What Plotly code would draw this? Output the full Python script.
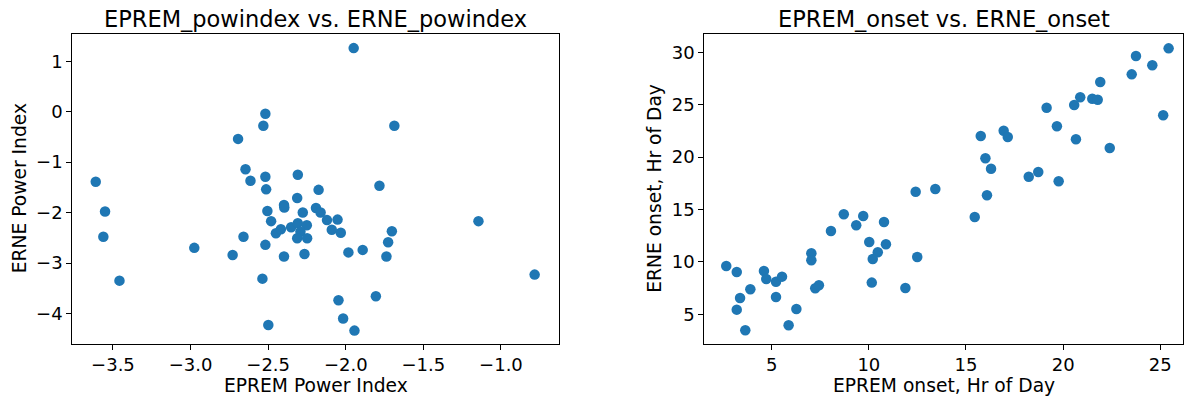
import plotly.graph_objects as go

# Left panel: EPREM vs ERNE power index
eprem_powindex = [-3.611, -3.551, -3.562, -3.458, -2.976, -2.694, -2.646, -2.614, -2.659, -2.729,
                  -2.518, -2.531, -2.518, -2.513, -2.505, -2.481, -2.518, -2.537, -2.499, -2.450,
                  -2.418, -2.398, -2.396, -2.398, -2.352, -2.309, -2.313, -2.277, -2.309, -2.251,
                  -2.292, -2.313, -2.249, -2.266, -2.175, -2.192, -1.949, -1.687, -1.783, -2.162,
                  -2.121, -2.053, -2.090, -2.032, -1.983, -1.891, -1.703, -1.727, -1.738, -1.145,
                  -0.783, -2.047, -1.806, -2.017, -1.944]
erne_powindex = [-1.39, -1.98, -2.48, -3.35, -2.70, -0.54, -1.14, -1.37, -2.48, -2.84,
                 -0.04, -0.28, -1.29, -1.54, -1.97, -2.17, -2.64, -3.31, -4.23, -2.41,
                 -2.33, -1.85, -1.90, -2.87, -2.29, -1.25, -1.71, -2.00, -2.21, -2.25,
                 -2.38, -2.51, -2.51, -2.82, -1.55, -1.91, 1.26, -0.28, -1.47, -2.00,
                 -2.15, -2.14, -2.34, -2.40, -2.79, -2.74, -2.37, -2.59, -2.87, -2.17,
                 -3.23, -3.74, -3.66, -4.10, -4.34]

# Right panel: EPREM vs ERNE onset (hour of day)
eprem_onset = [2.66, 3.20, 3.37, 3.20, 3.64, 3.90, 4.60, 4.72, 5.22, 5.53,
               5.22, 5.87, 6.27, 7.04, 7.04, 7.24, 7.43, 8.05, 8.71, 9.35,
               9.71, 10.78, 10.02, 10.46, 10.20, 10.88, 10.15, 11.88, 12.41, 13.42,
               12.49, 15.45, 16.08, 15.76, 16.00, 16.29, 16.94, 17.15, 18.23, 18.72,
               19.15, 19.68, 19.77, 20.57, 20.88, 20.66, 21.50, 21.78, 21.91, 22.40,
               23.53, 23.75, 24.59, 25.43, 25.15]
erne_onset = [9.61, 9.04, 6.56, 5.44, 3.47, 7.39, 9.13, 8.37, 8.11, 8.59,
              6.65, 3.95, 5.51, 10.82, 10.15, 7.48, 7.77, 12.95, 14.54, 13.49,
              14.38, 13.81, 11.90, 10.92, 10.28, 11.68, 8.02, 7.51, 16.70, 16.96,
              10.47, 14.28, 16.36, 22.01, 19.89, 18.89, 22.52, 21.92, 18.13, 18.58,
              24.71, 22.94, 17.69, 24.97, 25.71, 21.70, 25.57, 25.48, 27.17, 20.87,
              27.90, 29.65, 28.76, 30.38, 23.99]

titles = ["EPREM_powindex vs. ERNE_powindex", "EPREM_onset vs. ERNE_onset"]
xlabels = ["EPREM Power Index", "EPREM onset, Hr of Day"]
ylabels = ["ERNE Power Index", "ERNE onset, Hr of Day"]

W, H = 1184, 396
BLUE = "#1f77b4"
FONT = "DejaVu Sans"

def px(x):
    return x / W

def py(y):
    return 1 - y / H

fig = go.Figure()
fig.add_trace(go.Scatter(x=eprem_powindex, y=erne_powindex, mode="markers",
                         marker=dict(color=BLUE, size=10.5, line=dict(width=0)),
                         xaxis="x", yaxis="y", showlegend=False))
fig.add_trace(go.Scatter(x=eprem_onset, y=erne_onset, mode="markers",
                         marker=dict(color=BLUE, size=10.5, line=dict(width=0)),
                         xaxis="x2", yaxis="y2", showlegend=False))

L1, R1 = 72.3, 558.7
L2, R2 = 704.3, 1183.0
T, B = 34.0, 343.7

axis_common = dict(showline=True, mirror=True, linecolor="black", linewidth=1.2,
                   ticks="outside", ticklen=5, tickwidth=1.2, tickcolor="black",
                   showgrid=False, zeroline=False,
                   tickfont=dict(family=FONT, size=18, color="black"))

fig.update_layout(
    width=W, height=H, autosize=False,
    margin=dict(l=0, r=0, t=0, b=0),
    paper_bgcolor="white", plot_bgcolor="white",
    xaxis=dict(domain=[px(L1), px(R1)], range=[-3.762, -0.628], dtick=0.5,
               tick0=0, tickformat=".1f", anchor="y", **axis_common),
    yaxis=dict(domain=[py(B), py(T)], range=[-4.60, 1.54], dtick=1, tick0=0,
               anchor="x", **axis_common),
    xaxis2=dict(domain=[px(L2), px(R2)], range=[1.53, 26.17], dtick=5, tick0=0,
                anchor="y2", **axis_common),
    yaxis2=dict(domain=[py(B), py(T)], range=[2.19, 31.75], dtick=5, tick0=0,
                anchor="x2", **axis_common),
)

ann = []
for i, (l, r) in enumerate([(L1, R1), (L2, R2)]):
    cx = (l + r) / 2
    ann.append(dict(text=titles[i], x=px(cx), y=py(19), xref="paper", yref="paper",
                    xanchor="center", yanchor="middle", showarrow=False,
                    font=dict(family=FONT, size=22.5, color="black")))
    ann.append(dict(text=xlabels[i], x=px(cx), y=py(385), xref="paper", yref="paper",
                    xanchor="center", yanchor="middle", showarrow=False,
                    font=dict(family=FONT, size=18.7, color="black")))
ann.append(dict(text=ylabels[0], x=px(19.5), y=py((T + B) / 2), xref="paper", yref="paper",
                xanchor="center", yanchor="middle", showarrow=False, textangle=-90,
                font=dict(family=FONT, size=18.7, color="black")))
ann.append(dict(text=ylabels[1], x=px(655), y=py((T + B) / 2), xref="paper", yref="paper",
                xanchor="center", yanchor="middle", showarrow=False, textangle=-90,
                font=dict(family=FONT, size=18.7, color="black")))
fig.update_layout(annotations=ann)

fig.write_html("out.html")
